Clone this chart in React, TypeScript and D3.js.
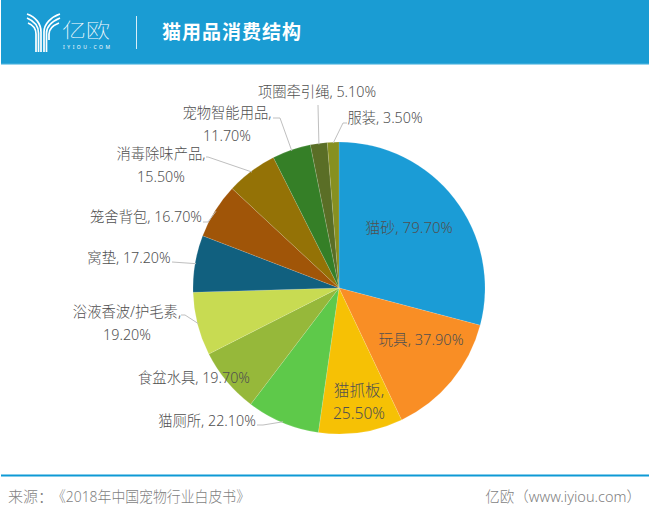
import React from "react";
import * as d3 from "d3";

const categories = ["猫砂", "玩具", "猫抓板", "猫厕所", "食盆水具", "浴液香波/护毛素", "窝垫", "笼舍背包", "消毒除味产品", "宠物智能用品", "项圈牵引绳", "服装"];
const values = [79.7, 37.9, 25.5, 22.1, 19.7, 19.2, 17.2, 16.7, 15.5, 11.7, 5.1, 3.5];
const colors = ["#1b9cd6", "#f98e25", "#f6c105", "#5ec94a", "#96b83a", "#c8db52", "#11607f", "#a05508", "#947206", "#357f27", "#5a6e26", "#879020"];

// Label layout: x centre, first-line y, whether value wraps to a second line
const labelLayout: Record<string, { x: number; y: number; wrap?: boolean; size?: number }> = {
  "猫砂": { x: 409, y: 227, size: 15 },
  "玩具": { x: 421, y: 339, size: 14.6 },
  "猫抓板": { x: 359, y: 390, wrap: true, size: 15.6 },
  "猫厕所": { x: 207, y: 420 },
  "食盆水具": { x: 194, y: 377 },
  "浴液香波/护毛素": { x: 127, y: 311, wrap: true },
  "窝垫": { x: 129, y: 257 },
  "笼舍背包": { x: 146, y: 216 },
  "消毒除味产品": { x: 161, y: 153, wrap: true },
  "宠物智能用品": { x: 227, y: 112, wrap: true },
  "项圈牵引绳": { x: 317, y: 91 },
  "服装": { x: 385, y: 117 },
};
// Leader-line routes (label end → elbow); the slice end comes from the arc
const leaderLayout: Record<string, [number, number][]> = {
  "猫厕所": [[257, 425], [263, 425]],
  "浴液香波/护毛素": [[181, 315], [185, 315]],
  "窝垫": [[172, 262]],
  "笼舍背包": [[203, 222], [208, 222]],
  "消毒除味产品": [[206, 157], [208, 157]],
  "宠物智能用品": [[273, 118], [280, 118]],
  "项圈牵引绳": [[318, 105]],
  "服装": [[347, 123], [343, 123]],
};

const cx = 339;
const cy = 288;
const r = 146;
const FONT = "'Noto Sans', 'Noto Sans CJK SC', sans-serif";

export default function App() {
  const pie = d3.pie<number>().sort(null).startAngle(0).endAngle(2 * Math.PI);
  const slices = pie(values);
  const arc = d3.arc<d3.PieArcDatum<number>>().innerRadius(0).outerRadius(r);
  const edge = d3.arc<d3.PieArcDatum<number>>().innerRadius(r - 1).outerRadius(r - 1);
  const leaderPath = d3.line();

  return (
    <svg width={650} height={517} style={{ position: "absolute", left: 0, top: 0, background: "#fff" }} fontFamily={FONT}>
      <rect x={1} y={0} width={648} height={64} fill="#1a9cd3" />
      <rect x={1} y={63} width={648} height={1.5} fill="#35a9da" />
      {/* logo mark */}
      <g fill="none" stroke="#fff" strokeWidth={1.7}>
        <path d="M27 14 C36 17 41 24 41 32 V52" />
        <path d="M27 18 C34 21 38.5 26 38.5 33 V52" />
        <path d="M28 23 C33 25 36 29 36 34 V52" />
        <path d="M60 14 C51 17 44 24 44 32 V52" />
        <path d="M60 18 C53 21 46.5 26 46.5 33 V52" />
        <path d="M59 23 C54 25 49 29 49 34 V40" />
      </g>
      <text x={62} y={38} fontSize={20} fontWeight={100} fill="#fff" textLength={48} lengthAdjust="spacingAndGlyphs">亿欧</text>
      <text x={63} y={49} fontSize={5} fill="#fff" textLength={47}>IYIOU·COM</text>
      <rect x={136} y={16} width={1} height={33} fill="#d7eef8" />
      <text x={162} y={39} fontSize={19} fontWeight={700} fill="#fff" textLength={139}>猫用品消费结构</text>

      <g transform={`translate(${cx},${cy})`}>
        {slices.map((s, i) => (
          <path key={categories[i]} d={arc(s) ?? ""} fill={colors[i]} stroke="#fff" strokeOpacity={0.25} strokeWidth={0.5} />
        ))}
      </g>
      <g fill="none" stroke="#bfbfbf" strokeWidth={1}>
        {slices.map((s, i) => {
          const route = leaderLayout[categories[i]];
          if (!route) return null;
          const [ex, ey] = edge.centroid(s);
          return <path key={categories[i]} d={leaderPath([...route, [cx + ex, cy + ey]]) ?? ""} />;
        })}
      </g>
      <g fontSize={14.3} fill="#505050" textAnchor="middle" fontWeight={300} dominantBaseline="central">
        {categories.map((c, i) => {
          const l = labelLayout[c];
          const v = `${values[i].toFixed(2)}%`;
          return l.wrap ? (
            <g key={c} fontSize={l.size}>
              <text x={l.x} y={l.y}>{c},</text>
              <text x={l.x} y={l.y + 23}>{v}</text>
            </g>
          ) : (
            <text key={c} x={l.x} y={l.y} fontSize={l.size}>{`${c}, ${v}`}</text>
          );
        })}
      </g>

      <rect x={1} y={474.5} width={648} height={2} fill="#0e9ad5" />
      <text x={8} y={502} fontSize={15} fill="#7f7f7f" fontWeight={300}>来源：</text>
      <text x={52} y={502} fontSize={15} fill="#7f7f7f" fontWeight={300} textLength={198} lengthAdjust="spacingAndGlyphs">《2018年中国宠物行业白皮书》</text>
      <text x={641} y={502} fontSize={14.5} fill="#7f7f7f" fontWeight={300} textAnchor="end">亿欧（www.iyiou.com）</text>
    </svg>
  );
}
